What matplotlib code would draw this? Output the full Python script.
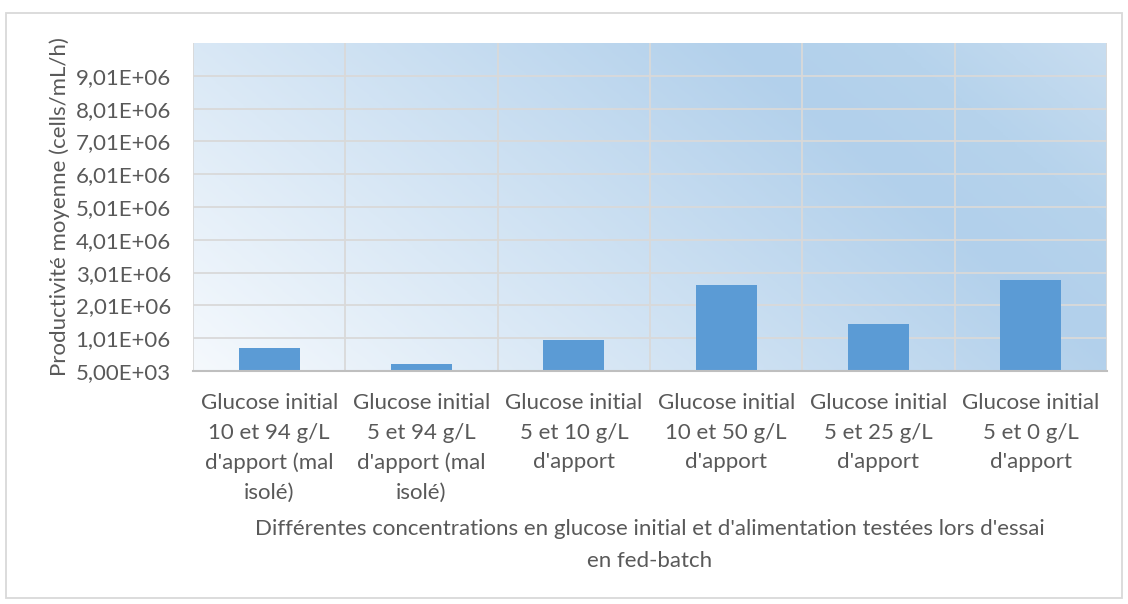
import numpy as np
import matplotlib
matplotlib.use("Agg")
import matplotlib.pyplot as plt
from matplotlib.colors import LinearSegmentedColormap
from matplotlib.patches import Rectangle

categories = [
    "Glucose initial\n10 et 94 g/L\nd'apport (mal\nisolé)",
    "Glucose initial\n5 et 94 g/L\nd'apport (mal\nisolé)",
    "Glucose initial\n5 et 10 g/L\nd'apport",
    "Glucose initial\n10 et 50 g/L\nd'apport",
    "Glucose initial\n5 et 25 g/L\nd'apport",
    "Glucose initial\n5 et 0 g/L\nd'apport",
]
productivity = [6.97e5, 2.2e5, 9.6e5, 2.63e6, 1.44e6, 2.77e6]

y_ticks = [5e3 + i * 1e6 for i in range(10)]
y_tick_labels = ["5,00E+03", "1,01E+06", "2,01E+06", "3,01E+06", "4,01E+06",
                 "5,01E+06", "6,01E+06", "7,01E+06", "8,01E+06", "9,01E+06"]
y_limits = (5e3, 1.0005e7)

y_title = "Productivité moyenne (cells/mL/h)"
x_title = "Différentes concentrations en glucose initial et d'alimentation testées lors d'essai\nen fed-batch"

TEXT = "#595959"
GRID = "#D9D9D9"
BAR = "#5B9BD5"
FONT = "Lato"
FS = 16.0
LS = 1.6

fig = plt.figure(figsize=(11.28, 6.04), dpi=100)
fig.patch.set_facecolor("white")

# outer chart frame
fig.add_artist(Rectangle((6 / 1128, 6 / 604), 1116 / 1128, 585 / 604,
                         transform=fig.transFigure, fill=False,
                         edgecolor=GRID, linewidth=1.3))

ax = fig.add_axes([193 / 1128, 1 - 371 / 604, 914 / 1128, 328 / 604])

# light diagonal gradient fill of the plot area
grad = LinearSegmentedColormap.from_list(
    "plotfill",
    [(0.0, "#F5F9FD"), (0.72, "#B2D0EB"), (0.84, "#B6D3EC"), (1.0, "#C8DDF0")])
nx, ny = 400, 200
u = np.linspace(0, 1, nx)[None, :]
v = np.linspace(0, 1, ny)[:, None]
t = 0.7 * u + 0.3 * v
ax.imshow(t, cmap=grad, vmin=0, vmax=1, origin="lower", aspect="auto",
          extent=[0, 1, 0, 1], transform=ax.transAxes, zorder=0,
          interpolation="bilinear")

x = np.arange(len(categories))
ax.bar(x, productivity, width=0.4, color=BAR, zorder=3, bottom=0)

ax.set_xlim(-0.5, len(categories) - 0.5)
ax.set_ylim(*y_limits)

for yv in y_ticks[1:]:
    ax.axhline(yv, color=GRID, linewidth=1.3, zorder=1)
for xv in np.arange(-0.5, len(categories), 1.0):
    ax.axvline(xv, color=GRID, linewidth=1.3, zorder=1)

for s in ["top", "right", "left"]:
    ax.spines[s].set_visible(False)
ax.spines["bottom"].set_color("#BFBFBF")
ax.spines["bottom"].set_linewidth(1.5)
ax.spines["bottom"].set_zorder(4)

ax.set_yticks(y_ticks)
ax.set_yticklabels(y_tick_labels, fontsize=FS, color=TEXT, family=FONT)
ax.set_xticks(x)
ax.set_xticklabels(categories, fontsize=FS, color=TEXT, family=FONT,
                   linespacing=LS)
ax.tick_params(axis="both", length=0)
ax.tick_params(axis="y", pad=16)
ax.tick_params(axis="x", pad=16)

ax.set_ylabel(y_title, fontsize=FS, color=TEXT, family=FONT)
ax.yaxis.set_label_coords(-(193 - 70) / 914, 0.5)
fig.text(650 / 1128, 1 - 545 / 604, x_title, ha="center", va="center",
         fontsize=FS, color=TEXT, family=FONT, linespacing=1.72)

fig.savefig("out.png", dpi=100)
